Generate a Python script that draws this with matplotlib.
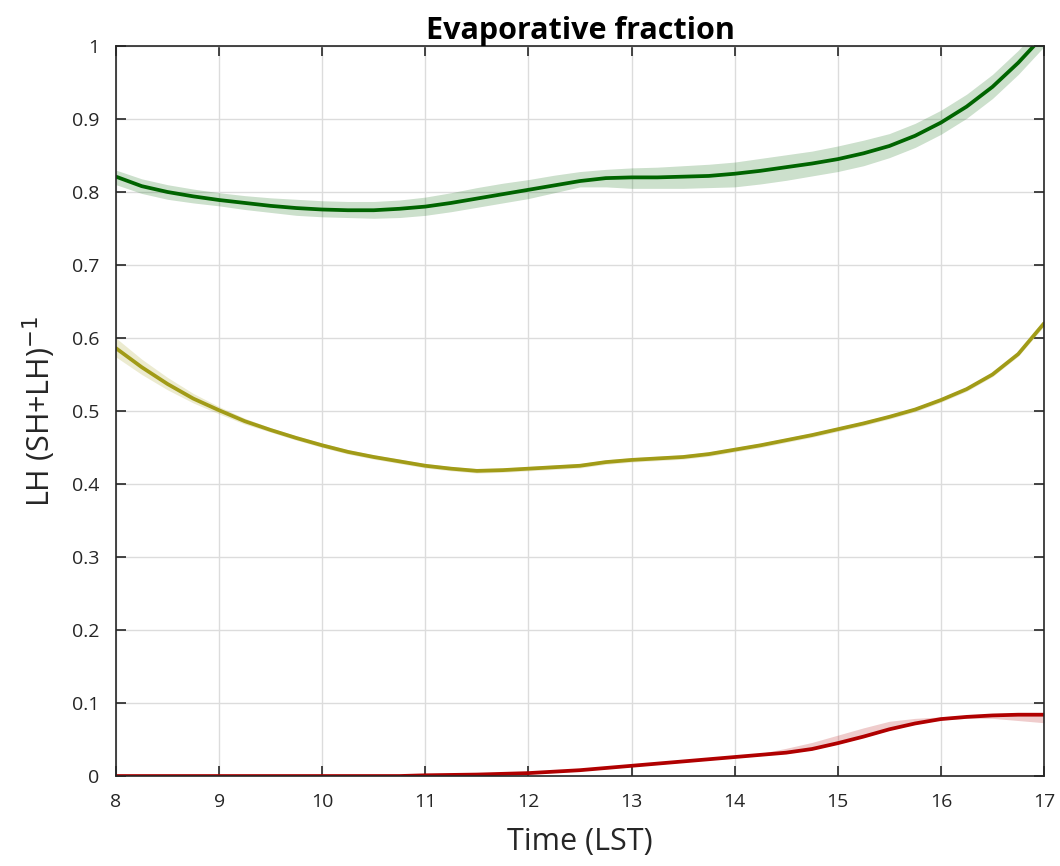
import numpy as np
import matplotlib
matplotlib.use("Agg")
import matplotlib.pyplot as plt

plt.rcParams["font.family"] = ["Open Sans", "DejaVu Sans"]

# hours (LST), quarter-hour steps
hours = [8, 8.25, 8.5, 8.75, 9, 9.25, 9.5, 9.75, 10, 10.25, 10.5, 10.75, 11, 11.25, 11.5, 11.75,
         12, 12.25, 12.5, 12.75, 13, 13.25, 13.5, 13.75, 14, 14.25, 14.5, 14.75, 15, 15.25, 15.5,
         15.75, 16, 16.25, 16.5, 16.75, 17]

# green series (mean, lower, upper)
green = [0.821, 0.808, 0.800, 0.794, 0.789, 0.785, 0.781, 0.778, 0.776, 0.775, 0.775, 0.777, 0.780,
         0.785, 0.791, 0.797, 0.803, 0.809, 0.815, 0.819, 0.820, 0.820, 0.821, 0.822, 0.825, 0.829,
         0.834, 0.839, 0.845, 0.853, 0.863, 0.877, 0.895, 0.917, 0.944, 0.977, 1.015]
green_lo = [0.810, 0.798, 0.790, 0.785, 0.781, 0.776, 0.772, 0.768, 0.766, 0.765, 0.764, 0.765, 0.768,
            0.773, 0.779, 0.785, 0.791, 0.799, 0.807, 0.807, 0.805, 0.805, 0.805, 0.806, 0.807, 0.811,
            0.816, 0.822, 0.828, 0.836, 0.847, 0.861, 0.879, 0.901, 0.928, 0.961, 0.999]
green_hi = [0.830, 0.818, 0.810, 0.804, 0.799, 0.795, 0.792, 0.790, 0.788, 0.787, 0.787, 0.789, 0.793,
            0.799, 0.806, 0.812, 0.817, 0.823, 0.828, 0.831, 0.833, 0.834, 0.836, 0.838, 0.841, 0.846,
            0.851, 0.856, 0.863, 0.871, 0.880, 0.894, 0.912, 0.934, 0.961, 0.994, 1.032]

# olive series
olive = [0.586, 0.560, 0.537, 0.517, 0.501, 0.486, 0.474, 0.463, 0.453, 0.444, 0.437, 0.431, 0.425,
         0.421, 0.418, 0.419, 0.421, 0.423, 0.425, 0.430, 0.433, 0.435, 0.437, 0.441, 0.447, 0.453,
         0.460, 0.467, 0.475, 0.483, 0.492, 0.502, 0.515, 0.530, 0.550, 0.578, 0.620]
olive_lo = [0.574, 0.550, 0.529, 0.511, 0.496, 0.482, 0.471, 0.460, 0.450, 0.441, 0.434, 0.428, 0.422,
            0.418, 0.415, 0.416, 0.418, 0.420, 0.422, 0.427, 0.430, 0.432, 0.434, 0.438, 0.444, 0.450,
            0.457, 0.464, 0.472, 0.480, 0.489, 0.499, 0.512, 0.527, 0.547, 0.575, 0.616]
olive_hi = [0.600, 0.571, 0.546, 0.524, 0.506, 0.490, 0.477, 0.466, 0.456, 0.447, 0.440, 0.434, 0.428,
            0.424, 0.421, 0.422, 0.424, 0.426, 0.428, 0.433, 0.436, 0.438, 0.440, 0.444, 0.450, 0.456,
            0.463, 0.470, 0.478, 0.486, 0.495, 0.505, 0.518, 0.533, 0.553, 0.581, 0.624]

# red series
red = [0.0, 0.0, 0.0, 0.0, 0.0, 0.0, 0.0, 0.0, 0.0, 0.0, 0.0, 0.0, 0.001, 0.0015, 0.002, 0.003,
       0.004, 0.006, 0.008, 0.011, 0.014, 0.017, 0.020, 0.023, 0.026, 0.029, 0.032, 0.037, 0.045,
       0.054, 0.064, 0.072, 0.078, 0.081, 0.083, 0.084, 0.084]
red_lo = [0.0, 0.0, 0.0, 0.0, 0.0, 0.0, 0.0, 0.0, 0.0, 0.0, 0.0, 0.0, 0.0, 0.0005, 0.001, 0.002,
          0.003, 0.005, 0.007, 0.010, 0.013, 0.016, 0.019, 0.022, 0.025, 0.028, 0.031, 0.036, 0.044,
          0.053, 0.063, 0.071, 0.077, 0.079, 0.079, 0.076, 0.073]
red_hi = [0.0, 0.0, 0.0, 0.0, 0.0, 0.0, 0.0, 0.0, 0.0, 0.0, 0.0, 0.0, 0.002, 0.0025, 0.003, 0.004,
          0.005, 0.007, 0.009, 0.012, 0.015, 0.018, 0.021, 0.024, 0.027, 0.031, 0.038, 0.046, 0.056,
          0.066, 0.075, 0.079, 0.081, 0.083, 0.085, 0.086, 0.086]

series = [
    (green, green_lo, green_hi, "#006400"),
    (olive, olive_lo, olive_hi, "#a19b17"),
    (red, red_lo, red_hi, "#b00000"),
]

fig = plt.figure(figsize=(10.6, 8.66), dpi=100)
ax = fig.add_axes([0.1094, 0.1039, 0.8755, 0.843])

for mean, lo, hi, c in series:
    ax.fill_between(hours, lo, hi, color=c, alpha=0.2, lw=0)
    ax.plot(hours, mean, color=c, lw=2.7, solid_capstyle="round", solid_joinstyle="round")

ax.set_xlim(8, 17)
ax.set_ylim(0, 1)
ax.set_xticks(range(8, 18))
ax.set_yticks(np.arange(0, 1.01, 0.1))
ax.set_yticklabels(["0", "0.1", "0.2", "0.3", "0.4", "0.5", "0.6", "0.7", "0.8", "0.9", "1"])
ax.grid(True, color="#dcdcdc", lw=1)
ax.set_axisbelow(True)
ax.tick_params(direction="in", length=7, width=1.2, top=True, right=True,
               labelsize=14, colors="#262626", pad=12)
for s in ax.spines.values():
    s.set_linewidth(1.2)
    s.set_color("#262626")

ax.set_title("Evaporative fraction", fontsize=22, fontweight="bold", pad=5)
ax.set_xlabel("Time (LST)", fontsize=22, color="#262626", labelpad=12)
ax.set_ylabel(r"LH (SH+LH)$^{-1}$", fontsize=22, color="#262626", labelpad=10)

fig.savefig("out.png", dpi=100)
